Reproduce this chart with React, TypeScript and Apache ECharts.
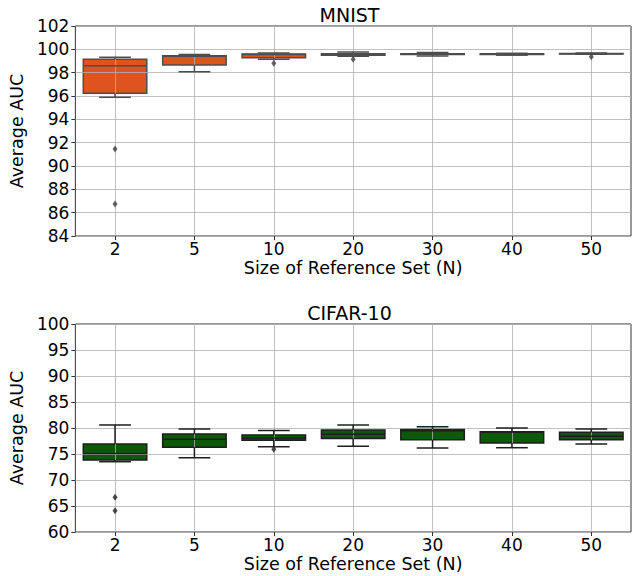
import React, { useEffect, useRef } from "react";
import * as echarts from "echarts";

const categories = ["2", "5", "10", "20", "30", "40", "50"];

const mnistLow = [95.89, 98.08, 99.15, 99.4, 99.42, 99.5, 99.57];
const mnistQ1 = [96.23, 98.66, 99.28, 99.5, 99.55, 99.56, 99.6];
const mnistMedian = [98.6, 99.4, 99.55, 99.57, 99.6, 99.6, 99.62];
const mnistQ3 = [99.15, 99.46, 99.6, 99.62, 99.62, 99.62, 99.64];
const mnistHigh = [99.32, 99.56, 99.69, 99.78, 99.72, 99.66, 99.68];
const mnistOutliers: [number, number][] = [
  [0, 91.46],
  [0, 86.75],
  [2, 98.8],
  [3, 99.15],
  [6, 99.37],
];

const cifarLow = [73.52, 74.29, 76.4, 76.5, 76.15, 76.21, 76.92];
const cifarQ1 = [73.85, 76.29, 77.63, 78.0, 77.75, 77.12, 77.75];
const cifarMedian = [75.1, 77.83, 78.1, 78.8, 79.48, 79.23, 78.4];
const cifarQ3 = [76.92, 78.85, 78.65, 79.6, 79.81, 79.29, 79.17];
const cifarHigh = [80.58, 79.81, 79.5, 80.6, 80.25, 80.0, 79.81];
const cifarOutliers: [number, number][] = [
  [0, 66.67],
  [0, 64.1],
  [2, 75.9],
];

const titles = ["MNIST", "CIFAR-10"];
const xName = "Size of Reference Set (N)";
const yName = "Average AUC";

const FONT = "DejaVu Sans";

function buildRows(lo: number[], q1: number[], med: number[], q3: number[], hi: number[]) {
  return categories.map((_, i) => [i, lo[i], q1[i], med[i], q3[i], hi[i]]);
}

function boxFill(fill: string, stroke: string) {
  return (params: any, api: any) => {
    const i = api.value(0);
    const bw = api.size([1, 0])[0] * 0.8;
    const p1 = api.coord([i, api.value(2)]);
    const p3 = api.coord([i, api.value(4)]);
    return {
      type: "rect",
      shape: { x: p1[0] - bw / 2, y: p3[1], width: bw, height: Math.max(p1[1] - p3[1], 0.5) },
      style: { fill, stroke, lineWidth: 1.5 },
    };
  };
}

function boxLines(stroke: string) {
  return (params: any, api: any) => {
    const i = api.value(0);
    const bw = api.size([1, 0])[0] * 0.8;
    const pl = api.coord([i, api.value(1)]);
    const p1 = api.coord([i, api.value(2)]);
    const pm = api.coord([i, api.value(3)]);
    const p3 = api.coord([i, api.value(4)]);
    const ph = api.coord([i, api.value(5)]);
    const x = pl[0];
    const style = { stroke, lineWidth: 1.5, fill: "none" };
    return {
      type: "group",
      children: [
        { type: "line", shape: { x1: x, y1: p1[1], x2: x, y2: pl[1] }, style },
        { type: "line", shape: { x1: x, y1: p3[1], x2: x, y2: ph[1] }, style },
        { type: "line", shape: { x1: x - bw / 4, y1: pl[1], x2: x + bw / 4, y2: pl[1] }, style },
        { type: "line", shape: { x1: x - bw / 4, y1: ph[1], x2: x + bw / 4, y2: ph[1] }, style },
        { type: "line", shape: { x1: x - bw / 2, y1: pm[1], x2: x + bw / 2, y2: pm[1] }, style },
      ],
    };
  };
}

export default function App() {
  const ref = useRef<HTMLDivElement>(null);
  useEffect(() => {
    if (!ref.current) return;
    const chart = echarts.init(ref.current, null, { renderer: "svg" });
    const txt = { fontFamily: FONT, color: "#000" };
    const mkX = (gridIndex: number) => ({
      type: "category",
      gridIndex,
      data: categories,
      z: 2,
      name: xName,
      nameLocation: "middle",
      nameGap: 23,
      nameTextStyle: { ...txt, fontSize: 17.5 },
      axisLine: { show: false },
      axisTick: { show: true, alignWithLabel: true, length: 4, lineStyle: { color: "#333" } },
      axisLabel: { ...txt, fontSize: 17, margin: 4 },
      splitLine: { show: true, alignWithLabel: true, lineStyle: { color: "#b0b0b0", width: 0.8 } },
    });
    const mkY = (gridIndex: number, min: number, max: number, interval: number) => ({
      type: "value",
      gridIndex,
      min,
      max,
      interval,
      z: 2,
      name: yName,
      nameLocation: "middle",
      nameGap: 39,
      nameTextStyle: { ...txt, fontSize: 17.5 },
      axisLine: { show: false },
      axisTick: { show: true, length: 4, lineStyle: { color: "#333" } },
      axisLabel: { ...txt, fontSize: 17, margin: 6 },
      splitLine: { show: true, lineStyle: { color: "#b0b0b0", width: 0.8 } },
    });
    const orange = "#df5320";
    const orangeLine = "#4d4d4d";
    const green = "#0c590c";
    const greenLine = "#1e1e1e";
    const option: any = {
      animation: false,
      backgroundColor: "#fff",
      graphic: [
        {
          type: "text",
          x: 349.5,
          y: 15,
          style: { text: titles[0], textAlign: "center", textVerticalAlign: "middle", fontFamily: FONT, fontSize: 19, fill: "#000" },
        },
        {
          type: "text",
          x: 349.5,
          y: 313,
          style: { text: titles[1], textAlign: "center", textVerticalAlign: "middle", fontFamily: FONT, fontSize: 19, fill: "#000" },
        },
      ],
      grid: [
        { left: 68, top: 26, width: 563, height: 210, show: true, borderColor: "#333", borderWidth: 1, backgroundColor: "transparent" },
        { left: 68, top: 324, width: 563, height: 208, show: true, borderColor: "#333", borderWidth: 1, backgroundColor: "transparent" },
      ],
      xAxis: [mkX(0), mkX(1)],
      yAxis: [mkY(0, 84, 102, 2), mkY(1, 60, 100, 5)],
      series: [
        {
          type: "custom",
          xAxisIndex: 0,
          yAxisIndex: 0,
          z: 1,
          renderItem: boxFill(orange, orangeLine),
          encode: { x: 0, y: [1, 2, 3, 4, 5] },
          data: buildRows(mnistLow, mnistQ1, mnistMedian, mnistQ3, mnistHigh),
        },
        {
          type: "custom",
          xAxisIndex: 0,
          yAxisIndex: 0,
          z: 3,
          renderItem: boxLines(orangeLine),
          encode: { x: 0, y: [1, 2, 3, 4, 5] },
          data: buildRows(mnistLow, mnistQ1, mnistMedian, mnistQ3, mnistHigh),
        },
        {
          type: "scatter",
          xAxisIndex: 0,
          yAxisIndex: 0,
          z: 4,
          symbol: "diamond",
          symbolSize: [5, 7],
          itemStyle: { color: "#3d3d3d" },
          data: mnistOutliers,
        },
        {
          type: "custom",
          xAxisIndex: 1,
          yAxisIndex: 1,
          z: 1,
          renderItem: boxFill(green, greenLine),
          encode: { x: 0, y: [1, 2, 3, 4, 5] },
          data: buildRows(cifarLow, cifarQ1, cifarMedian, cifarQ3, cifarHigh),
        },
        {
          type: "custom",
          xAxisIndex: 1,
          yAxisIndex: 1,
          z: 3,
          renderItem: boxLines(greenLine),
          encode: { x: 0, y: [1, 2, 3, 4, 5] },
          data: buildRows(cifarLow, cifarQ1, cifarMedian, cifarQ3, cifarHigh),
        },
        {
          type: "scatter",
          xAxisIndex: 1,
          yAxisIndex: 1,
          z: 4,
          symbol: "diamond",
          symbolSize: [5, 7],
          itemStyle: { color: "#1e1e1e" },
          data: cifarOutliers,
        },
      ],
    };
    chart.setOption(option);
    return () => chart.dispose();
  }, []);
  return <div ref={ref} style={{ width: 635, height: 576, position: "absolute", left: 0, top: 0 }} />;
}
